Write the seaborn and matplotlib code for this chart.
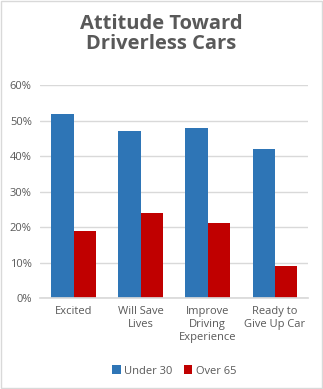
import matplotlib
matplotlib.use("Agg")
import matplotlib.pyplot as plt
import seaborn as sns
import pandas as pd
from matplotlib.ticker import FuncFormatter

categories = ["Excited", "Will Save\nLives", "Improve\nDriving\nExperience", "Ready to\nGive Up Car"]
under30 = [52, 47, 48, 42]
over65 = [19, 24, 21, 9]
series = ["Under 30", "Over 65"]

df = pd.DataFrame({
    "cat": categories * 2,
    "val": under30 + over65,
    "grp": [series[0]] * 4 + [series[1]] * 4,
})

sns.set_theme(style="white")
plt.rcParams['font.family'] = ['Open Sans', 'DejaVu Sans']

fig = plt.figure(figsize=(3.23, 3.89), dpi=100)
ax = fig.add_axes([0.124, 0.234, 0.830, 0.547])
sns.barplot(data=df, x="cat", y="val", hue="grp", palette=["#2E75B6", "#C00000"],
            width=0.66, ax=ax, saturation=1, legend=True, linewidth=0, edgecolor="none")
ax.set_ylim(0, 60)
ax.set_yticks(range(0, 61, 10))
ax.yaxis.set_major_formatter(FuncFormatter(lambda v, p: f"{int(v)}%"))
ax.grid(axis="y", color="#D9D9D9", linewidth=1)
ax.set_axisbelow(True)
for s in ["top", "right", "left"]:
    ax.spines[s].set_visible(False)
ax.spines["bottom"].set_color("#D9D9D9")
ax.set_xlabel("")
ax.set_ylabel("")
ax.tick_params(axis="both", length=0, labelsize=8, colors="#595959", pad=6)
ax.set_xlim(-0.5, 3.5)
leg = ax.legend(loc="upper center", bbox_to_anchor=(0.5, -0.27), ncol=2, frameon=False,
                fontsize=8, handlelength=0.8, handleheight=0.8, handletextpad=0.3,
                columnspacing=1.0, labelcolor="#595959")
fig.text(0.5, 0.965, "Attitude Toward\nDriverless Cars", ha="center", va="top",
         fontsize=14.5, fontweight="bold", color="#595959", linespacing=1.05)
fig.patches.append(plt.Rectangle((0.002, 0.002), 0.996, 0.996, transform=fig.transFigure,
                                 fill=False, edgecolor="#D9D9D9", linewidth=1))
fig.savefig("out.png", dpi=100)
